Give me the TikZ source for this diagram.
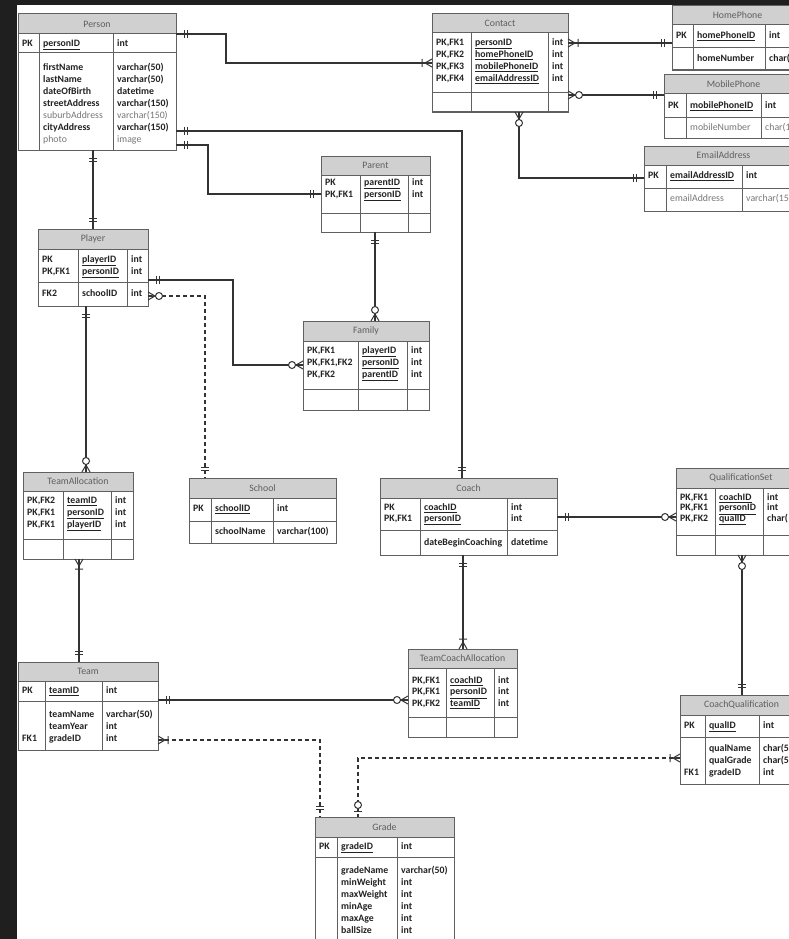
\documentclass[tikz,border=0pt]{standalone}
\usepackage{fontspec}
\setmainfont{Carlito}
\usetikzlibrary{calc}

\definecolor{bgdark}{HTML}{1F1F1F}
\definecolor{hdrgray}{HTML}{D0D0D0}
\definecolor{linegray}{HTML}{606060}
\definecolor{txtdark}{HTML}{222222}
\definecolor{txtgray}{HTML}{777777}
\definecolor{ttlgray}{HTML}{5E5E5E}
\definecolor{conn}{HTML}{333333}

\tikzset{
  tframe/.style={draw=linegray, line width=1pt},
  ttitle/.style={font=\fontsize{9.8}{11}\selectfont, text=ttlgray, inner sep=0pt},
  tb/.style={font=\fontsize{9.8}{11}\selectfont\bfseries, text=txtdark, anchor=west, inner sep=0pt, text height=6.8pt, text depth=1.9pt},
  tn/.style={font=\fontsize{9.8}{11}\selectfont, text=txtgray, anchor=west, inner sep=0pt, text height=6.8pt, text depth=1.9pt},
  link/.style={draw=conn, line width=1.2pt},
  dlink/.style={draw=conn, line width=1.2pt, dash pattern=on 4pt off 3pt},
  markline/.style={draw=conn, line width=1pt, solid},
  erOne/.pic={\draw[markline] (8,-4)--(8,4) (11,-4)--(11,4);},
  erOneMany/.pic={\draw[markline] (0,-4)--(7,0)--(0,4) (0,0)--(10,0) (10,-4)--(10,4);},
  erZeroMany/.pic={\draw[markline] (0,-4)--(7,0)--(0,4) (0,0)--(7.5,0); \draw[markline, fill=white] (11,0) circle[radius=3.5pt];},
  erZeroOne/.pic={\draw[markline] (6,-4)--(6,4); \draw[markline, fill=white] (12,0) circle[radius=3.5pt];},
}

\newcounter{txc}
\newcommand\mytx[4][tb]{\stepcounter{txc}\node[#1] (tx\arabic{txc}) at (#2,#3) {#4};}
% name, x1, y1, x2, y2, header bottom, title
\newcommand\mktab[7]{%
  \node[tframe, fill=white, inner sep=0pt, anchor=north west,
        minimum width={(#4-#2)*1pt}, minimum height={(#5-#3)*1pt}] (#1) at (#2,#3) {};
  \fill[hdrgray] (#2,#3) rectangle (#4,#6);
  \draw[tframe] (#2,#3) rectangle (#4,#5) (#2,#6) -- (#4,#6);
  \node[ttitle] (#1-title) at ({(#2+#4)/2},{(#3+#6)/2}) {#7};
}
\newcommand\hsep[3]{\draw[tframe] (#1,#3) -- (#2,#3);}
\newcommand\vdiv[3]{\draw[tframe] (#1,#2) -- (#1,#3);}

\begin{document}
\begin{tikzpicture}[x=1pt,y=-1pt]
\useasboundingbox (0,0) rectangle (789,939);
\clip (0,0) rectangle (789,939);
\fill[bgdark] (0,0) rectangle (789,939);
\fill[white] (17,5) rectangle (789,939);

% ---------------- Person
\mktab{person}{18}{14}{176}{150}{34}{Person}
\hsep{18}{176}{53}\vdiv{39}{34}{150}\vdiv{113}{34}{150}
\mytx{22}{44}{PK}\mytx{43}{44}{\underline{personID}}\mytx{117}{44}{int}
\mytx{43}{68.5}{firstName}\mytx{117}{68.5}{varchar(50)}
\mytx{43}{80.5}{lastName}\mytx{117}{80.5}{varchar(50)}
\mytx{43}{92.5}{dateOfBirth}\mytx{117}{92.5}{datetime}
\mytx{43}{104.5}{streetAddress}\mytx{117}{104.5}{varchar(150)}
\mytx[tn]{43}{116.5}{suburbAddress}\mytx[tn]{117}{116.5}{varchar(150)}
\mytx{43}{128.5}{cityAddress}\mytx{117}{128.5}{varchar(150)}
\mytx[tn]{43}{140.5}{photo}\mytx[tn]{117}{140.5}{image}

% ---------------- Contact
\mktab{contact}{432}{14}{568}{112}{33}{Contact}
\hsep{432}{568}{93}\vdiv{471}{33}{112}\vdiv{548}{33}{112}
\mytx{436}{43}{PK,FK1}\mytx{475}{43}{\underline{personID}}\mytx{552}{43}{int}
\mytx{436}{55}{PK,FK2}\mytx{475}{55}{\underline{homePhoneID}}\mytx{552}{55}{int}
\mytx{436}{67}{PK,FK3}\mytx{475}{67}{\underline{mobilePhoneID}}\mytx{552}{67}{int}
\mytx{436}{79}{PK,FK4}\mytx{475}{79}{\underline{emailAddressID}}\mytx{552}{79}{int}

% ---------------- HomePhone
\mktab{homephone}{672}{6}{803}{70}{25}{HomePhone}
\hsep{672}{803}{48}\vdiv{693}{25}{70}\vdiv{765}{25}{70}
\mytx{676}{36.5}{PK}\mytx{697}{36.5}{\underline{homePhoneID}}\mytx{769}{36.5}{int}
\mytx{697}{59}{homeNumber}\mytx{769}{59}{char(}

% ---------------- MobilePhone
\mktab{mobilephone}{664}{75}{803}{138}{94}{MobilePhone}
\hsep{664}{803}{118}\vdiv{686}{94}{138}\vdiv{761}{94}{138}
\mytx{668}{106}{PK}\mytx{690}{106}{\underline{mobilePhoneID}}\mytx{765}{106}{int}
\mytx[tn]{690}{128}{mobileNumber}\mytx[tn]{765}{128}{char(1}

% ---------------- EmailAddress
\mktab{email}{644}{146}{803}{211}{165}{EmailAddress}
\hsep{644}{803}{188}\vdiv{666}{165}{211}\vdiv{742}{165}{211}
\mytx{648}{176.5}{PK}\mytx{670}{176.5}{\underline{emailAddressID}}\mytx{746}{176.5}{int}
\mytx[tn]{670}{199.5}{emailAddress}\mytx[tn]{746}{199.5}{varchar(15}

% ---------------- Parent
\mktab{parent}{321}{156}{430}{232}{175}{Parent}
\hsep{321}{430}{213}\vdiv{360}{175}{232}\vdiv{408}{175}{232}
\mytx{325}{183}{PK}\mytx{364}{183}{\underline{parentID}}\mytx{412}{183}{int}
\mytx{325}{195}{PK,FK1}\mytx{364}{195}{\underline{personID}}\mytx{412}{195}{int}

% ---------------- Player
\mktab{player}{38}{229}{148}{306}{249}{Player}
\hsep{38}{148}{282}\vdiv{78}{249}{306}\vdiv{127}{249}{306}
\mytx{42}{260}{PK}\mytx{82}{260}{\underline{playerID}}\mytx{131}{260}{int}
\mytx{42}{272}{PK,FK1}\mytx{82}{272}{\underline{personID}}\mytx{131}{272}{int}
\mytx{42}{294.5}{FK2}\mytx{82}{294.5}{schoolID}\mytx{131}{294.5}{int}

% ---------------- Family
\mktab{family}{303}{321}{429}{410}{341}{Family}
\hsep{303}{429}{389}\vdiv{358}{341}{410}\vdiv{407}{341}{410}
\mytx{307}{351}{PK,FK1}\mytx{362}{351}{\underline{playerID}}\mytx{411}{351}{int}
\mytx{307}{363}{PK,FK1,FK2}\mytx{362}{363}{\underline{personID}}\mytx{411}{363}{int}
\mytx{307}{375}{PK,FK2}\mytx{362}{375}{\underline{parentID}}\mytx{411}{375}{int}

% ---------------- TeamAllocation
\mktab{teamalloc}{23}{472}{133}{559}{491}{TeamAllocation}
\hsep{23}{133}{539}\vdiv{63}{491}{559}\vdiv{111}{491}{559}
\mytx{27}{501}{PK,FK2}\mytx{67}{501}{\underline{teamID}}\mytx{115}{501}{int}
\mytx{27}{513}{PK,FK1}\mytx{67}{513}{\underline{personID}}\mytx{115}{513}{int}
\mytx{27}{525}{PK,FK1}\mytx{67}{525}{\underline{playerID}}\mytx{115}{525}{int}

% ---------------- School
\mktab{school}{189}{478}{336}{543}{498}{School}
\hsep{189}{336}{521}\vdiv{211}{498}{543}\vdiv{273}{498}{543}
\mytx{193}{509.5}{PK}\mytx{215}{509.5}{\underline{schoolID}}\mytx{277}{509.5}{int}
\mytx{215}{532}{schoolName}\mytx{277}{532}{varchar(100)}

% ---------------- Coach
\mktab{coach}{380}{478}{557}{555}{498}{Coach}
\hsep{380}{557}{530}\vdiv{420}{498}{555}\vdiv{507}{498}{555}
\mytx{384}{508}{PK}\mytx{424}{508}{\underline{coachID}}\mytx{511}{508}{int}
\mytx{384}{519}{PK,FK1}\mytx{424}{519}{\underline{personID}}\mytx{511}{519}{int}
\mytx{424}{543}{dateBeginCoaching}\mytx{511}{543}{datetime}

% ---------------- QualificationSet
\mktab{qualset}{676}{468}{806}{555}{488}{QualificationSet}
\hsep{676}{806}{535}\vdiv{715}{488}{555}\vdiv{763}{488}{555}
\mytx{680}{498}{PK,FK1}\mytx{719}{498}{\underline{coachID}}\mytx{767}{498}{int}
\mytx{680}{508.5}{PK,FK1}\mytx{719}{508.5}{\underline{personID}}\mytx{767}{508.5}{int}
\mytx{680}{519}{PK,FK2}\mytx{719}{519}{\underline{qualID}}\mytx{767}{519}{char(}

% ---------------- Team
\mktab{team}{18}{662}{158}{750}{681}{Team}
\hsep{18}{158}{701}\vdiv{45}{681}{750}\vdiv{102}{681}{750}
\mytx{22}{691}{PK}\mytx{49}{691}{\underline{teamID}}\mytx{106}{691}{int}
\mytx{49}{715}{teamName}\mytx{106}{715}{varchar(50)}
\mytx{49}{727}{teamYear}\mytx{106}{727}{int}
\mytx{22}{739}{FK1}\mytx{49}{739}{gradeID}\mytx{106}{739}{int}

% ---------------- TeamCoachAllocation
\mktab{tca}{408}{649}{517}{737}{668}{TeamCoachAllocation}
\hsep{408}{517}{717}\vdiv{446}{668}{737}\vdiv{494}{668}{737}
\mytx{412}{681}{PK,FK1}\mytx{450}{681}{\underline{coachID}}\mytx{498}{681}{int}
\mytx{412}{692.5}{PK,FK1}\mytx{450}{692.5}{\underline{personID}}\mytx{498}{692.5}{int}
\mytx{412}{704}{PK,FK2}\mytx{450}{704}{\underline{teamID}}\mytx{498}{704}{int}

% ---------------- CoachQualification
\mktab{coachqual}{680}{695}{803}{784}{715}{CoachQualification}
\hsep{680}{803}{737}\vdiv{705}{715}{784}\vdiv{759}{715}{784}
\mytx{684}{726}{PK}\mytx{709}{726}{\underline{qualID}}\mytx{763}{726}{int}
\mytx{709}{749}{qualName}\mytx{763}{749}{char(5}
\mytx{709}{761}{qualGrade}\mytx{763}{761}{char(5}
\mytx{684}{773}{FK1}\mytx{709}{773}{gradeID}\mytx{763}{773}{int}

% ---------------- Grade
\mktab{grade}{315}{817}{454}{945}{837}{Grade}
\hsep{315}{454}{857}\vdiv{337}{837}{945}\vdiv{397}{837}{945}
\mytx{319}{847}{PK}\mytx{341}{847}{\underline{gradeID}}\mytx{401}{847}{int}
\mytx{341}{871}{gradeName}\mytx{401}{871}{varchar(50)}
\mytx{341}{883}{minWeight}\mytx{401}{883}{int}
\mytx{341}{895}{maxWeight}\mytx{401}{895}{int}
\mytx{341}{907}{minAge}\mytx{401}{907}{int}
\mytx{341}{919}{maxAge}\mytx{401}{919}{int}
\mytx{341}{931}{ballSize}\mytx{401}{931}{int}

% ---------------- connector end points
\coordinate (pe-ct) at (176,34);   \coordinate (ct-pe) at (432,63);
\coordinate (pe-co) at (176,131);  \coordinate (co-pe) at (462,478);
\coordinate (pe-pa) at (176,145);  \coordinate (pa-pe) at (321,194);
\coordinate (pe-pl) at (93,150);   \coordinate (pl-pe) at (93,229);
\coordinate (ct-hp) at (568,43);   \coordinate (hp-ct) at (672,43);
\coordinate (ct-mp) at (568,95);   \coordinate (mp-ct) at (664,95);
\coordinate (ct-em) at (519,112);  \coordinate (em-ct) at (644,178);
\coordinate (pa-fa) at (375,232);  \coordinate (fa-pa) at (375,321);
\coordinate (pl-fa) at (148,280);  \coordinate (fa-pl) at (303,365);
\coordinate (pl-sc) at (148,296);  \coordinate (sc-pl) at (205,478);
\coordinate (pl-ta) at (86,306);   \coordinate (ta-pl) at (86,472);
\coordinate (ta-te) at (79,559);   \coordinate (te-ta) at (79,662);
\coordinate (co-qs) at (557,517);  \coordinate (qs-co) at (676,517);
\coordinate (co-tc) at (463,555);  \coordinate (tc-co) at (463,649);
\coordinate (qs-cq) at (742,555);  \coordinate (cq-qs) at (742,695);
\coordinate (te-tc) at (158,700);  \coordinate (tc-te) at (408,700);
\coordinate (te-gr) at (158,740);  \coordinate (gr-te) at (320,817);
\coordinate (cq-gr) at (680,758);  \coordinate (gr-cq) at (358,817);

% ---------------- connectors
\draw[link] (pe-ct) -- ++(50,0) |- (ct-pe);
\draw[link] (pe-co) -| (co-pe);
\draw[link] (pe-pa) -- ++(32,0) |- (pa-pe);
\draw[link] (pe-pl) -- (pl-pe);
\draw[link] (ct-hp) -- (hp-ct);
\draw[link] (ct-mp) -- (mp-ct);
\draw[link] (ct-em) |- (em-ct);
\draw[link] (pa-fa) -- (fa-pa);
\draw[link] (pl-fa) -- ++(85,0) |- (fa-pl);
\draw[dlink] (pl-sc) -| (sc-pl);
\draw[link] (pl-ta) -- (ta-pl);
\draw[link] (ta-te) -- (te-ta);
\draw[link] (co-qs) -- (qs-co);
\draw[link] (co-tc) -- (tc-co);
\draw[link] (qs-cq) -- (cq-qs);
\draw[link] (te-tc) -- (tc-te);
\draw[dlink] (te-gr) -| (gr-te);
\draw[dlink] (cq-gr) -| (gr-cq);

% ---------------- end markers
\pic at (pe-ct) {erOne};            \pic[rotate=180] at (ct-pe) {erOneMany};
\pic at (pe-co) {erOne};            \pic[rotate=90] at (co-pe) {erOne};
\pic at (pe-pa) {erOne};            \pic[rotate=180] at (pa-pe) {erOne};
\pic[rotate=-90] at (pe-pl) {erOne};\pic[rotate=90] at (pl-pe) {erOne};
\pic at (ct-hp) {erOneMany};        \pic[rotate=180] at (hp-ct) {erOne};
\pic at (ct-mp) {erZeroMany};       \pic[rotate=180] at (mp-ct) {erOne};
\pic[rotate=-90] at (ct-em) {erZeroMany}; \pic[rotate=180] at (em-ct) {erOne};
\pic[rotate=-90] at (pa-fa) {erOne};\pic[rotate=90] at (fa-pa) {erZeroMany};
\pic at (pl-fa) {erOne};            \pic[rotate=180] at (fa-pl) {erZeroMany};
\pic at (pl-sc) {erZeroMany};       \pic[rotate=90] at (sc-pl) {erOne};
\pic[rotate=-90] at (pl-ta) {erOne};\pic[rotate=90] at (ta-pl) {erZeroMany};
\pic[rotate=-90] at (ta-te) {erOneMany}; \pic[rotate=90] at (te-ta) {erOne};
\pic at (co-qs) {erOne};            \pic[rotate=180] at (qs-co) {erZeroMany};
\pic[rotate=-90] at (co-tc) {erOne};\pic[rotate=90] at (tc-co) {erOneMany};
\pic[rotate=-90] at (qs-cq) {erZeroMany}; \pic[rotate=90] at (cq-qs) {erOne};
\pic at (te-tc) {erOne};            \pic[rotate=180] at (tc-te) {erZeroMany};
\pic at (te-gr) {erOneMany};        \pic[rotate=90] at (gr-te) {erOne};
\pic[rotate=180] at (cq-gr) {erOneMany}; \pic[rotate=90] at (gr-cq) {erZeroOne};
\end{tikzpicture}
\end{document}
